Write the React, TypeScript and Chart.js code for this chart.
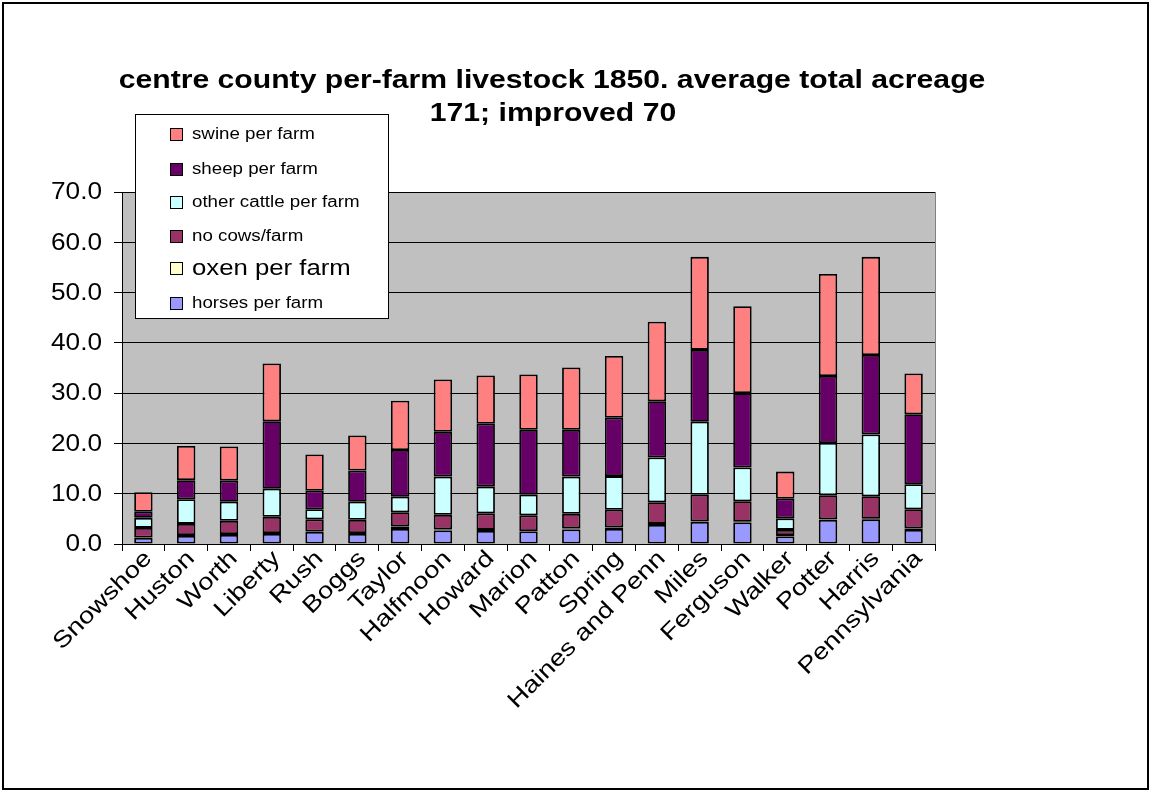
import React, { useEffect, useRef } from "react";
import { Chart, registerables } from "chart.js";

Chart.register(...registerables);

const categories = [
  "Snowshoe", "Huston", "Worth", "Liberty", "Rush", "Boggs", "Taylor", "Halfmoon", "Howard",
  "Marion", "Patton", "Spring", "Haines and Penn", "Miles", "Ferguson", "Walker", "Potter",
  "Harris", "Pennsylvania",
];
const horsesPerFarm = [1.2, 1.6, 1.8, 2.0, 2.4, 2.0, 3.0, 2.7, 2.6, 2.5, 2.9, 3.0, 3.8, 4.4, 4.3, 1.5, 4.8, 4.9, 2.8];
const oxenPerFarm = [0.1, 0.2, 0.2, 0.2, 0.1, 0.2, 0.5, 0.2, 0.2, 0.1, 0.2, 0.3, 0.2, 0.1, 0.1, 0.3, 0.1, 0.1, 0.3];
const cowsPerFarm = [1.9, 2.2, 2.6, 3.2, 2.4, 2.6, 2.8, 2.9, 3.3, 3.1, 2.9, 3.5, 4.3, 5.3, 4.1, 1.0, 4.8, 4.5, 3.8];
const otherCattlePerFarm = [2.0, 4.9, 3.8, 5.6, 2.0, 3.6, 3.1, 7.6, 5.3, 4.1, 7.4, 6.7, 8.9, 14.5, 6.7, 2.3, 10.4, 12.3, 5.0];
const sheepPerFarm = [1.2, 3.8, 4.2, 13.4, 3.7, 6.2, 9.3, 8.9, 12.5, 12.9, 9.3, 11.6, 11.2, 14.3, 14.8, 3.9, 13.3, 15.8, 13.9];
const swinePerFarm = [3.9, 6.8, 6.8, 11.5, 7.2, 7.0, 9.8, 10.4, 9.6, 11.0, 12.4, 12.3, 15.8, 18.5, 17.3, 5.4, 20.3, 19.5, 8.1];

const seriesLabels = ["horses per farm", "oxen per farm", "no cows/farm", "other cattle per farm", "sheep per farm", "swine per farm"];
const seriesColors = ["#9999FF", "#FFFFCC", "#993366", "#CCFFFF", "#660066", "#FF8080"];
const seriesValues = [horsesPerFarm, oxenPerFarm, cowsPerFarm, otherCattlePerFarm, sheepPerFarm, swinePerFarm];

const yMin = 0;
const yMax = 70;
const yStep = 10;
const titleLines = ["centre county per-farm livestock 1850. average total acreage", "171; improved 70"];

const FONT = '"Liberation Sans", Arial, sans-serif';

function drawText(ctx: CanvasRenderingContext2D, text: string, x: number, y: number, font: string,
  align: CanvasTextAlign, sx: number, rot = 0) {
  ctx.save();
  ctx.translate(x, y);
  if (rot) ctx.rotate(rot);
  ctx.scale(sx, 1);
  ctx.font = font;
  ctx.textAlign = align;
  ctx.textBaseline = "middle";
  ctx.fillStyle = "#000";
  ctx.fillText(text, 0, 0);
  ctx.restore();
}

const decorPlugin = {
  id: "decor",
  beforeDraw(chart: any) {
    const { ctx, chartArea: a } = chart;
    ctx.save();
    ctx.fillStyle = "#fff";
    ctx.fillRect(0, 0, chart.width, chart.height);
    ctx.fillStyle = "#C0C0C0";
    ctx.fillRect(a.left, a.top, a.right - a.left, a.bottom - a.top);
    ctx.restore();
  },
  afterDraw(chart: any) {
    const { ctx, chartArea: a } = chart;
    const xs = chart.scales.x;
    const ys = chart.scales.y;
    ctx.save();
    ctx.strokeStyle = "#808080";
    ctx.lineWidth = 1;
    ctx.beginPath();
    ctx.moveTo(a.right + 0.5, a.top);
    ctx.lineTo(a.right + 0.5, a.bottom);
    ctx.stroke();
    ctx.strokeStyle = "#000";
    ctx.lineWidth = 2;
    ctx.strokeRect(3, 3, chart.width - 6, chart.height - 5);
    ctx.restore();

    ys.ticks.forEach((t: any) => {
      const y = ys.getPixelForValue(t.value);
      drawText(ctx, Number(t.value).toFixed(1), 102, y + 1, `23px ${FONT}`, "right", 1.14);
    });
    categories.forEach((c, i) => {
      const x = xs.getPixelForTick(i);
      drawText(ctx, c, x + 5, 555, `23px ${FONT}`, "right", 1.2, -Math.PI / 4);
    });
    drawText(ctx, titleLines[0], 552, 81, `bold 26px ${FONT}`, "center", 1.16);
    drawText(ctx, titleLines[1], 553, 114, `bold 26px ${FONT}`, "center", 1.16);

    ctx.save();
    ctx.fillStyle = "#fff";
    ctx.fillRect(135, 114, 253, 204);
    ctx.strokeStyle = "#000";
    ctx.lineWidth = 1;
    ctx.strokeRect(135.5, 114.5, 253, 204);
    ctx.restore();
    const rowsY = [134, 169, 202, 236, 268, 303];
    const order = [5, 4, 3, 2, 1, 0];
    order.forEach((di, k) => {
      const ds = chart.data.datasets[di];
      const y = rowsY[k];
      ctx.save();
      ctx.fillStyle = ds.backgroundColor;
      ctx.fillRect(170, y - 6, 13, 13);
      ctx.strokeStyle = "#000";
      ctx.lineWidth = 1;
      ctx.strokeRect(170.5, y - 5.5, 12, 12);
      ctx.restore();
      const size = di === 1 ? 22 : 16;
      drawText(ctx, ds.label, 192, y + 1, `${size}px ${FONT}`, "left", 1.17);
    });
  },
};

export default function App() {
  const ref = useRef<HTMLCanvasElement | null>(null);
  useEffect(() => {
    const canvas = ref.current;
    if (!canvas) return;
    const chart = new Chart(canvas, {
      type: "bar",
      data: {
        labels: categories,
        datasets: seriesValues.map((vals, i) => ({
          label: seriesLabels[i],
          data: vals,
          backgroundColor: seriesColors[i],
          borderColor: "#000",
          borderWidth: 1.8,
          borderSkipped: false,
          barPercentage: 0.43,
          categoryPercentage: 1,
        })),
      },
      options: {
        responsive: false,
        animation: false,
        devicePixelRatio: 1,
        layout: { padding: { left: 0, right: 216, top: 192, bottom: 0 } },
        plugins: { legend: { display: false }, title: { display: false }, tooltip: { enabled: false } },
        scales: {
          x: {
            stacked: true,
            grid: { offset: true, drawOnChartArea: false, drawTicks: true, tickLength: 7, color: "#000", lineWidth: 1 },
            border: { display: true, color: "#000", width: 1 },
            ticks: { display: false },
            afterFit: (s: any) => { s.height = 247; },
          },
          y: {
            stacked: true,
            min: yMin,
            max: yMax,
            ticks: { display: false, stepSize: yStep },
            grid: { color: "#000", lineWidth: 1, drawTicks: true, tickLength: 8 },
            border: { display: true, color: "#000", width: 1 },
            afterFit: (s: any) => { s.width = 122; },
          },
        },
      },
      plugins: [decorPlugin],
    });
    return () => chart.destroy();
  }, []);
  return (
    <div style={{ position: "fixed", left: 0, top: 0, width: 1151, height: 791, background: "#fff" }}>
      <canvas ref={ref} width={1151} height={791} style={{ display: "block" }} />
    </div>
  );
}
